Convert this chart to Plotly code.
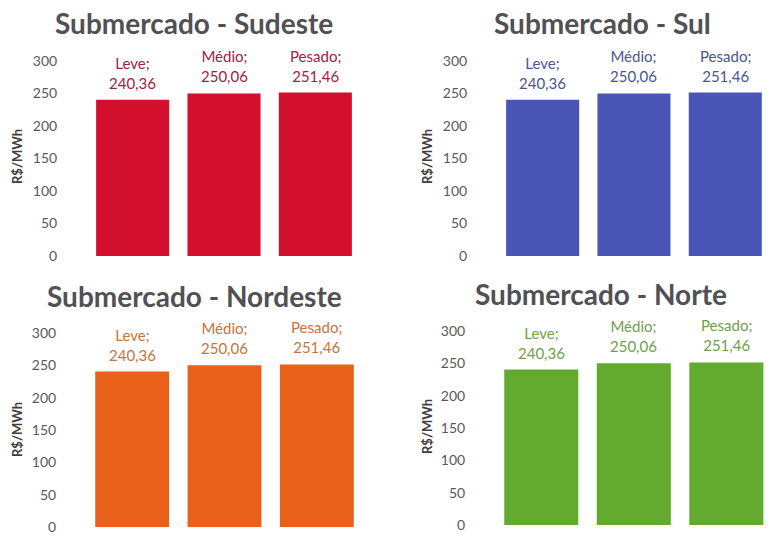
import plotly.graph_objects as go

W, H = 768, 538

categories = ["Leve", "Médio", "Pesado"]
sudeste = [240.36, 250.06, 251.46]
sul = [240.36, 250.06, 251.46]
nordeste = [240.36, 250.06, 251.46]
norte = [240.36, 250.06, 251.46]
y_ticks = [0, 50, 100, 150, 200, 250, 300]
titles = ["Submercado - Sudeste", "Submercado - Sul", "Submercado - Nordeste", "Submercado - Norte"]
bar_colors = ["#D2102E", "#4B55B6", "#E8601A", "#62AB2F"]
label_colors = ["#A0213F", "#4A5590", "#C8733A", "#6FA049"]
axis_title = "R$/MWh"

series = [sudeste, sul, nordeste, norte]

# geometry in pixels: (x_left, x_right, y_zero, y_300, xrange_max, title_x, title_y, ytitle_x, ytitle_y)
geom = [
    (87, 361, 256, 61, 2.5, 194, 23, 17, 157),
    (497, 768, 256, 61, 2.468, 602, 23, 427, 157),
    (86, 363, 527, 333, 2.5, 194, 296, 17, 430),
    (495, 768, 525, 331, 2.45, 601, 294, 427, 427),
]


def fx(px):
    return px / W


def fy(py):
    return 1 - py / H


FONT = "Lato, DejaVu Sans, sans-serif"

fig = go.Figure()
annotations = []
for i, (vals, g) in enumerate(zip(series, geom)):
    xl, xr, y0, y300, xmax, tx, ty, atx, aty = g
    xa = "x" if i == 0 else f"x{i+1}"
    ya = "y" if i == 0 else f"y{i+1}"
    fig.add_trace(go.Bar(
        x=categories, y=vals, xaxis=xa, yaxis=ya,
        marker=dict(color=bar_colors[i], line=dict(width=0)),
        showlegend=False, hoverinfo="skip",
    ))
    # data labels above the bars, positioned on the data axes
    for c, v in zip(categories, vals):
        annotations.append(dict(
            text=f"{c};<br>{v:.2f}".replace(".", ","), x=c, y=v, xref=xa, yref=ya,
            xanchor="center", yanchor="bottom", yshift=6, showarrow=False,
            font=dict(family=FONT, size=15, color=label_colors[i]),
        ))
    key_x = "xaxis" if i == 0 else f"xaxis{i+1}"
    key_y = "yaxis" if i == 0 else f"yaxis{i+1}"
    fig.layout[key_x] = dict(
        domain=[fx(xl), min(fx(xr), 1)], range=[-0.5, xmax], showticklabels=False,
        showgrid=False, zeroline=False, showline=False, ticks="",
        anchor=ya, type="category", automargin=False,
    )
    fig.layout[key_y] = dict(
        domain=[fy(y0), fy(y300)], range=[0, 300], tickvals=y_ticks,
        showgrid=False, zeroline=False, showline=False,
        ticks="outside", ticklen=26, tickcolor="rgba(0,0,0,0)",
        tickfont=dict(family=FONT, size=14, color="#595959"),
        anchor=xa, automargin=False,
    )
    annotations.append(dict(
        text=f"<b>{titles[i]}</b>", x=fx(tx), y=fy(ty), xref="paper", yref="paper",
        xanchor="center", yanchor="middle", showarrow=False,
        font=dict(family=FONT, size=28, color="#505055"),
    ))
    annotations.append(dict(
        text=f"<b>{axis_title}</b>", x=fx(atx), y=fy(aty), xref="paper", yref="paper",
        xanchor="center", yanchor="middle", showarrow=False, textangle=-90,
        font=dict(family=FONT, size=13, color="#404040"),
    ))

fig.update_layout(
    width=W, height=H, margin=dict(l=0, r=0, t=0, b=0, autoexpand=False),
    paper_bgcolor="white", plot_bgcolor="white",
    bargap=0.2, annotations=annotations,
)
fig.write_html(
    "out.html",
    config={"displayModeBar": False, "staticPlot": True},
    post_script="document.body.style.margin='0';document.body.style.overflow='hidden';",
)
